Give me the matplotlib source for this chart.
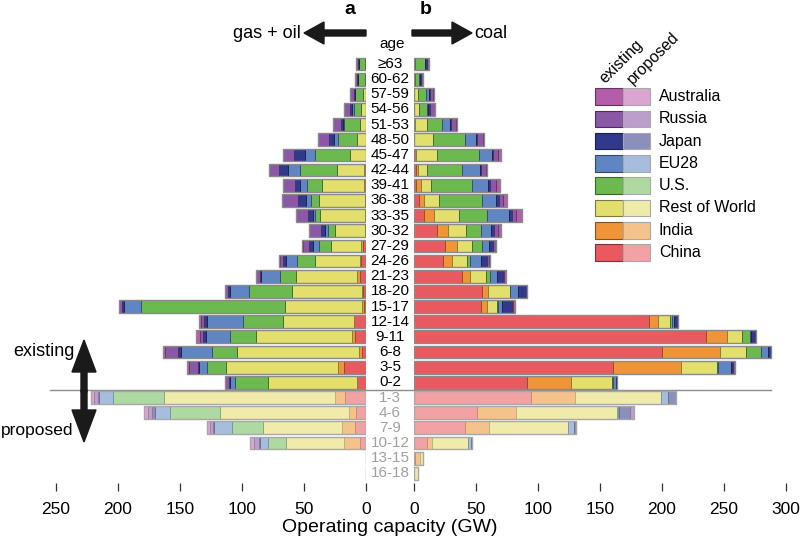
import matplotlib
matplotlib.use('Agg')
import matplotlib.pyplot as plt
import matplotlib.colors as mcolors
from matplotlib import transforms
from matplotlib.patches import Rectangle, FancyArrow
import numpy as np

plt.rcParams['font.family'] = ['Liberation Sans', 'DejaVu Sans']

#%% data (GW), rows top to bottom: 22 existing age bins then 6 proposed bins
ages_existing = ['≥63', '60-62', '57-59', '54-56', '51-53', '48-50', '45-47', '42-44',
                 '39-41', '36-38', '33-35', '30-32', '27-29', '24-26', '21-23', '18-20',
                 '15-17', '12-14', '9-11', '6-8', '3-5', '0-2']
ages_proposed = ['1-3', '4-6', '7-9', '10-12', '13-15', '16-18']

countries = ['China', 'India', 'Rest of World', 'U.S.', 'EU28', 'Japan', 'Russia', 'Australia']

# gas + oil
gas_china = [0, 0, 0, 0, 0, 0, 0, 1.3, 1.6, 1.0, 1.0, 0.8, 2.2, 3.8, 4.6, 2.2, 1.6, 9.4, 8.6, 3.5, 18.0, 7.3,
             17.2, 8.1, 9.1, 4.8, 0, 0]
gas_india = [0, 0, 0, 0, 0, 0, 0, 0, 0, 0, 0, 0, 2.2, 0.8, 3.0, 1.3, 1.3, 0, 2.7, 2.4, 4.3, 0,
             8.1, 5.9, 10.2, 13.2, 0, 0]
gas_row = [1.0, 0.5, 2.2, 3.8, 4.6, 7.5, 12.9, 22.0, 33.9, 36.6, 36.0, 24.2, 23.7, 36.8, 48.9, 56.2, 62.6,
           57.8, 77.4, 98.4, 90.6, 71.8,
           138.0, 103.8, 64.0, 46.5, 0, 0]
gas_us = [4.3, 6.0, 7.0, 6.2, 12.9, 14.8, 28.5, 30.0, 12.1, 6.7, 3.8, 5.6, 10.2, 14.2, 12.9, 34.9, 116.0,
          32.3, 21.0, 19.9, 15.0, 26.6,
          40.9, 40.6, 24.7, 14.5, 0, 0]
gas_eu28 = [0, 0, 0, 1.3, 1.3, 3.5, 7.5, 9.4, 5.4, 4.0, 2.2, 2.7, 4.3, 8.6, 15.3, 14.8, 13.4, 29.0, 19.4,
            24.7, 7.0, 4.0,
            11.3, 11.6, 14.2, 6.5, 0, 0]
gas_japan = [1.0, 0.5, 0.8, 1.6, 1.6, 3.8, 9.4, 7.8, 4.0, 6.5, 4.0, 2.7, 3.2, 3.0, 0.8, 1.9, 1.6, 1.9, 2.2,
             3.0, 0.3, 1.0,
             0.5, 2.2, 1.3, 1.0, 0, 0]
gas_russia = [1.6, 1.6, 2.7, 4.6, 6.2, 9.4, 8.3, 7.8, 9.7, 13.2, 9.1, 10.2, 5.4, 2.4, 3.0, 2.2, 3.0, 2.7,
              2.7, 9.9, 7.8, 3.0,
              3.5, 4.0, 2.7, 3.5, 0, 0]
gas_australia = [0, 0, 0, 0, 0, 0, 0, 0, 0, 0, 0, 0, 0.5, 0.5, 0, 0, 0, 1.3, 3.2, 2.2, 1.6, 0,
                 1.9, 3.2, 2.2, 3.5, 0, 0]

# coal
coal_china = [0, 0, 0, 0, 0, 0, 1.9, 1.3, 1.9, 4.0, 8.3, 18.3, 24.7, 23.7, 39.0, 54.6, 53.8, 189.5,
              235.2, 199.7, 160.8, 91.4,
              94.0, 51.0, 41.1, 10.8, 0.5, 0]
coal_india = [0, 0, 0, 0, 1.0, 0, 0, 1.9, 4.0, 4.0, 8.1, 9.4, 9.7, 7.3, 6.2, 5.4, 4.8, 7.3, 16.9, 46.8,
              54.8, 35.5,
              35.5, 30.9, 19.4, 4.0, 4.6, 0]
coal_row = [0.5, 0.5, 3.0, 4.3, 9.7, 15.6, 16.4, 7.0, 7.5, 12.1, 19.9, 14.5, 12.6, 12.1, 12.6, 17.2, 8.1,
            9.7, 12.6, 21.0, 29.0, 33.1,
            69.4, 82.0, 64.0, 28.8, 2.2, 3.5]
coal_us = [8.3, 3.5, 7.0, 5.9, 12.1, 25.5, 34.1, 28.8, 33.6, 34.9, 22.8, 11.8, 8.1, 2.2, 3.8, 0.5, 1.3,
           1.9, 5.9, 12.1, 0.8, 0.8,
           0.3, 0.8, 0, 0, 0, 0]
coal_eu28 = [0, 0.5, 1.9, 1.0, 5.9, 8.6, 10.2, 14.2, 12.9, 11.3, 17.5, 8.3, 5.4, 8.9, 5.4, 5.9, 2.7, 1.0,
             1.3, 6.2, 10.5, 1.9,
             5.9, 0.5, 4.6, 2.2, 0, 0]
coal_japan = [1.6, 1.3, 1.0, 1.6, 1.0, 1.3, 1.0, 0.8, 1.0, 2.2, 2.7, 1.9, 3.2, 4.8, 4.8, 7.3, 8.6, 3.2,
              3.0, 1.9, 1.3, 1.3,
              5.9, 8.6, 1.3, 1.3, 0, 0]
coal_russia = [1.6, 1.3, 2.7, 3.8, 4.3, 4.6, 3.8, 3.8, 5.4, 3.2, 3.2, 3.8, 2.2, 1.6, 1.0, 0.5, 0.8, 0.5,
               0.8, 0, 1.6, 0,
               0, 3.8, 0, 0, 0, 0]
coal_australia = [0, 0, 0.5, 0, 0.5, 0.5, 2.7, 0.8, 2.7, 3.2, 4.8, 1.9, 0.5, 0.5, 1.6, 0, 1.1, 0,
                  0, 0, 0, 0,
                  0, 0, 0, 0, 0, 0]

gas = [gas_china, gas_india, gas_row, gas_us, gas_eu28, gas_japan, gas_russia, gas_australia]
coal = [coal_china, coal_india, coal_row, coal_us, coal_eu28, coal_japan, coal_russia, coal_australia]

dark = ['#e85a60', '#ef9537', '#e3df6c', '#6cba4f', '#5f85c2', '#30398c', '#8a58a6', '#b45ea9']
light = ['#f2a2a5', '#f6c28c', '#f0ebab', '#aed9a0', '#a6bddd', '#8b8fbb', '#bc9ecb', '#daa6d0']

#%% figure
fig = plt.figure(figsize=(8, 5.43), dpi=100)
S = 1.24  # px per GW
ybot, ytop = 483, 50
axL = fig.add_axes([40 / 800, (543 - ybot) / 543, 326 / 800, (ybot - ytop) / 543])
axR = fig.add_axes([414 / 800, (543 - ybot) / 543, 378 / 800, (ybot - ytop) / 543])
axL.set_xlim(326 / S, 0)
axR.set_xlim(0, 378 / S)

n_ex = len(ages_existing)
labels = ages_existing + ages_proposed
y = np.arange(len(labels))
existing = y < n_ex


def darker(c, f):
    r, g, b = mcolors.to_rgb(c)
    return (r * f, g * f, b * f)


for ax, data in [(axL, gas), (axR, coal)]:
    left = np.zeros(len(y))
    for vals, cd, cl in zip(data, dark, light):
        vals = np.array(vals)
        cols = [cd if e else cl for e in existing]
        edges = [darker(cd, 0.55) if e else darker(cl, 0.75) for e in existing]
        ax.barh(y, vals, left=left, height=0.84, color=cols, edgecolor=edges, linewidth=0.6, zorder=2)
        left += vals
    ax.barh(y, left, height=0.84, fill=False,
            edgecolor=['#8a8a8a' if e else '#a8a8a8' for e in existing], linewidth=1.0, zorder=3)
    ax.set_ylim(27.64, (ytop - 64) / 15.16)
    ax.set_yticks([])
    for sp in ax.spines.values():
        sp.set_visible(False)
    ax.patch.set_alpha(0)
    ax.tick_params(axis='x', length=6, width=0.9, color='#333333', labelsize=12.5, pad=8)

axL.set_xticks([0, 50, 100, 150, 200, 250])
axR.set_xticks([0, 50, 100, 150, 200, 250, 300])

# age labels in the middle gap
trans = transforms.blended_transform_factory(fig.transFigure, axL.transData)
for i, lab in enumerate(labels):
    axL.text(390 / 800, i, lab, transform=trans, ha='center', va='center', fontsize=11,
             color='black' if i < n_ex else '#a0a0a0', clip_on=False)
axL.plot([50 / 800, 771 / 800], [n_ex - 0.5, n_ex - 0.5], transform=trans, color='#8c8c8c',
         lw=1.0, clip_on=False, zorder=1)

#%% overlay for arrows, titles and legend
ov = fig.add_axes([0, 0, 1, 1], zorder=5)
ov.set_xlim(0, 800)
ov.set_ylim(543, 0)
ov.axis('off')
ov.patch.set_alpha(0)

ov.add_patch(FancyArrow(366, 33, -62, 0, width=6, head_width=22, head_length=20,
                        length_includes_head=True, color='#1a1a1a'))
ov.add_patch(FancyArrow(412, 33, 60, 0, width=6, head_width=22, head_length=20,
                        length_includes_head=True, color='#1a1a1a'))
ov.add_patch(FancyArrow(84, 392, 0, -52, width=6, head_width=24, head_length=32,
                        length_includes_head=True, color='#1a1a1a'))
ov.add_patch(FancyArrow(84, 390, 0, 52, width=6, head_width=24, head_length=32,
                        length_includes_head=True, color='#1a1a1a'))

ov.text(267, 33, 'gas + oil', ha='center', va='center', fontsize=13)
ov.text(491, 33, 'coal', ha='center', va='center', fontsize=13)
ov.text(392, 44, 'age', ha='center', va='center', fontsize=11)
ov.text(350, 10, 'a', ha='center', va='center', fontsize=14, fontweight='bold')
ov.text(426, 10, 'b', ha='center', va='center', fontsize=14, fontweight='bold')
ov.text(44, 352, 'existing', ha='center', va='center', fontsize=13)
ov.text(37, 430, 'proposed', ha='center', va='center', fontsize=12.5)
ov.text(390, 527, 'Operating capacity (GW)', ha='center', va='center', fontsize=14)

# legend
for k, idx in enumerate(range(len(countries) - 1, -1, -1)):
    yc = 96.5 + k * 22.3
    ov.add_patch(Rectangle((595, yc - 8.3), 28, 16.6, facecolor=dark[idx],
                           edgecolor=darker(dark[idx], 0.55), lw=0.8))
    ov.add_patch(Rectangle((623, yc - 8.3), 27, 16.6, facecolor=light[idx],
                           edgecolor='#a8a8a8', lw=0.8))
    ov.text(659, yc, countries[idx], ha='left', va='center', fontsize=11.5)
ov.text(605, 84, 'existing', rotation=45, rotation_mode='anchor', ha='left', va='baseline', fontsize=11.5)
ov.text(633, 85, 'proposed', rotation=45, rotation_mode='anchor', ha='left', va='baseline', fontsize=11.5)

fig.savefig('out.png', dpi=100)
